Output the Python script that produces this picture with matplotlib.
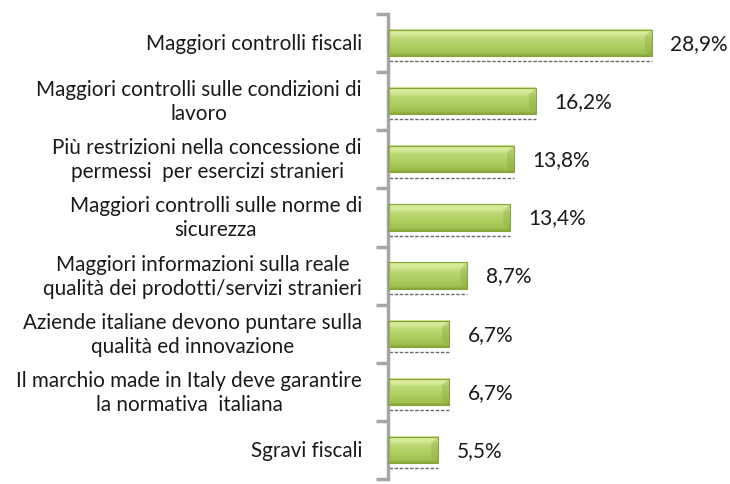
import matplotlib
matplotlib.use("Agg")
import matplotlib.pyplot as plt
import numpy as np
from matplotlib.colors import LinearSegmentedColormap

categories = [
    "Maggiori controlli fiscali",
    "Maggiori controlli sulle condizioni di\nlavoro",
    "Più restrizioni nella concessione di\npermessi  per esercizi stranieri",
    "Maggiori controlli sulle norme di\nsicurezza",
    "Maggiori informazioni sulla reale\nqualità dei prodotti/servizi stranieri",
    "Aziende italiane devono puntare sulla\nqualità ed innovazione",
    "Il marchio made in Italy deve garantire\nla normativa  italiana",
    "Sgravi fiscali",
]
values = [28.9, 16.2, 13.8, 13.4, 8.7, 6.7, 6.7, 5.5]
value_labels = ["28,9%", "16,2%", "13,8%", "13,4%", "8,7%", "6,7%", "6,7%", "5,5%"]

plt.rcParams['font.family'] = ['Lato', 'DejaVu Sans']
LABEL_FS = 14.9
VALUE_FS = 15

fig = plt.figure(figsize=(7.3, 4.85), dpi=100)
ax = fig.add_axes([388/730, 1-480/485, 1-388/730, 465/485])
ax.set_xlim(0, 37.45)
ax.set_ylim(len(categories)-0.5, -0.5)

cmap = LinearSegmentedColormap.from_list(
    "g", [(0, "#cfe68e"), (0.15, "#d9ed9f"), (0.35, "#bcd874"), (0.75, "#a8c95a"), (0.92, "#9cbf4c"), (1, "#86a63a")])
grad = np.linspace(0, 1, 64).reshape(-1, 1)
h = 0.45
px_x = 342 / 37.45   # px per data unit (x)
px_y = 465 / 8       # px per data unit (y)
for i, v in enumerate(values):
    top, bot = i - h/2, i + h/2
    ax.imshow(grad, cmap=cmap, aspect='auto', extent=[0, v, bot, top], zorder=2, interpolation='bilinear')
    d = 7 / px_x
    b = 6 / px_y
    ax.add_patch(plt.Polygon([(v - d, top + b), (v, top), (v, bot), (v - d, bot - b)],
                             closed=True, facecolor="#7f9e35", alpha=0.3, edgecolor='none', zorder=3))
    ax.add_patch(plt.Rectangle((0, top), v, h, fill=False, edgecolor="#8aa43c", lw=0.8, zorder=4))
    ax.plot([0.15, v], [bot + 0.09, bot + 0.09], color="#6b6b6b", lw=1.0, ls=(0, (2.5, 1.2)), zorder=1)
    ax.text(v + 2.0, i, value_labels[i], va='center', ha='left', fontsize=VALUE_FS, color="#1a1a1a")

ax.set_yticks(np.arange(-0.5, len(categories), 1))
ax.set_yticklabels([])
ax.tick_params(axis='y', length=9, width=2.5, color="#a6a6a6", direction='out')
ax.set_xticks([])
for s in ['top', 'right', 'bottom']:
    ax.spines[s].set_visible(False)
ax.spines['left'].set_color("#a6a6a6")
ax.spines['left'].set_linewidth(2.5)
ax.set_facecolor('none')

# category labels: block right-aligned, lines centered within the block
renderer = fig.canvas.get_renderer()
right_px = 362
line_h = 24
for i, c in enumerate(categories):
    lines = c.split("\n")
    widths = []
    for ln in lines:
        t = fig.text(0, 0, ln, fontsize=LABEL_FS)
        widths.append(t.get_window_extent(renderer).width)
        t.remove()
    wmax = max(widths)
    cx = right_px - wmax / 2
    yc = ax.transData.transform((0, i))[1]
    n = len(lines)
    for k, ln in enumerate(lines):
        yk = yc + ((n - 1) / 2 - k) * line_h
        fig.text(cx / 730, yk / 485, ln, ha='center', va='center', fontsize=LABEL_FS, color="#1a1a1a")

fig.savefig("out.png", dpi=100)
